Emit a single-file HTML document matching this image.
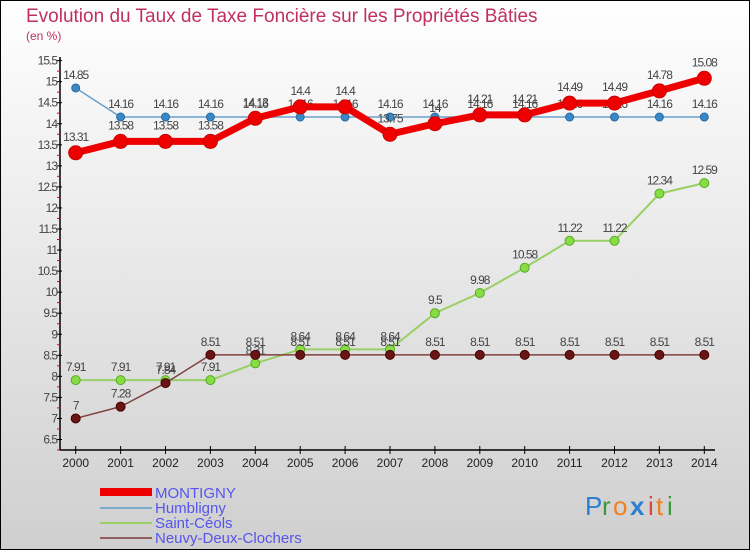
<!DOCTYPE html>
<html><head><meta charset="utf-8"><style>
body{margin:0}
#c{width:750px;height:550px;position:relative;overflow:hidden;font-family:"Liberation Sans",sans-serif}
svg text{font-family:"Liberation Sans",sans-serif}
</style></head><body>
<div id="c">
<svg id="s" width="750" height="550" xmlns="http://www.w3.org/2000/svg">
<defs><linearGradient id="bg" x1="0" y1="0" x2="0" y2="1"><stop offset="0" stop-color="#ffffff"/><stop offset="1" stop-color="#cfcfcf"/></linearGradient></defs>
<rect x="0.5" y="0.5" width="749" height="549" fill="url(#bg)" stroke="#000"/>
<text x="26" y="22" font-size="19" fill="#c0305f">Evolution du Taux de Taxe Foncière sur les Propriétés Bâties</text>
<text x="26" y="40" font-size="12" fill="#c0305f">(en %)</text>
<g id="axes"></g><g id="series"></g>
<g>
<rect x="100" y="488" width="52" height="8" fill="#ee0000"/>
<text x="155" y="498" font-size="15" fill="#5555ee">MONTIGNY</text>
<rect x="100" y="507" width="52" height="2" fill="#7aaccc"/>
<text x="155" y="513" font-size="15" fill="#5555ee">Humbligny</text>
<rect x="100" y="522" width="52" height="2" fill="#99d066"/>
<text x="155" y="528" font-size="15" fill="#5555ee">Saint-Céols</text>
<rect x="100" y="537" width="52" height="2" fill="#906060"/>
<text x="155" y="543" font-size="15" fill="#5555ee">Neuvy-Deux-Clochers</text>
</g>
<g font-size="26">
<text x="585" y="515" fill="#2a7fd0">P</text><text x="602" y="515" fill="#3a9a3a">r</text><text x="613" y="515" fill="#f08020">o</text><text x="630" y="515" fill="#2a7fd0" font-weight="bold">x</text><text x="648" y="515" fill="#e04040">i</text><text x="656" y="515" fill="#f08020">t</text><text x="667" y="515" fill="#3a9a3a">i</text>
</g>
</svg>
</div>
<script>
const years=[2000,2001,2002,2003,2004,2005,2006,2007,2008,2009,2010,2011,2012,2013,2014];
const montigny=[13.31,13.58,13.58,13.58,14.13,14.4,14.4,13.75,14,14.21,14.21,14.49,14.49,14.78,15.08];
const humbligny=[14.85,14.16,14.16,14.16,14.16,14.16,14.16,14.16,14.16,14.16,14.16,14.16,14.16,14.16,14.16];
const saintCeols=[7.91,7.91,7.91,7.91,8.31,8.64,8.64,8.64,9.5,9.98,10.58,11.22,11.22,12.34,12.59];
const neuvy=[7,7.28,7.84,8.51,8.51,8.51,8.51,8.51,8.51,8.51,8.51,8.51,8.51,8.51,8.51];
const yTicks=[6.5,7,7.5,8,8.5,9,9.5,10,10.5,11,11.5,12,12.5,13,13.5,14,14.5,15,15.5];
const NS="http://www.w3.org/2000/svg";
function X(i){return 75.7+i*44.9;}
function Y(v){return 439.5-(v-6.5)*42.1;}
function mk(t,a,p){const e=document.createElementNS(NS,t);for(const k in a)e.setAttribute(k,a[k]);p.appendChild(e);return e;}
const ax=document.getElementById('axes');
let l=mk('line',{x1:60,y1:57,x2:60,y2:450,stroke:'#000','stroke-width':1.5},ax);


l=mk('line',{x1:60,y1:450,x2:715,y2:450,stroke:'#000','stroke-width':1.5},ax);


yTicks.forEach(v=>{
 mk('line',{x1:57,y1:Y(v),x2:62,y2:Y(v),stroke:'#000'},ax);
 mk('line',{x1:57,y1:Y(v)+10.5,x2:60,y2:Y(v)+10.5,stroke:'#e00'},ax);
 const t=mk('text',{x:57,y:Y(v)+4,'font-size':12,fill:'#444','text-anchor':'end','letter-spacing':'-1'},ax);
 t.textContent=v;
 
 
});
years.forEach((yr,i)=>{
 mk('line',{x1:X(i),y1:446,x2:X(i),y2:454,stroke:'#000'},ax);
 const t=mk('text',{x:X(i),y:467,'font-size':12,fill:'#222','text-anchor':'middle'},ax);
 t.textContent=yr;
 
 
});
const sg=document.getElementById('series');
function series(data,name,color,w,r,dot,dotStroke){
 const g=mk('g',{},sg);
 
 
 const pl=mk('polyline',{points:data.map((v,i)=>X(i)+','+Y(v)).join(' '),fill:'none',stroke:color,'stroke-width':w,'stroke-linejoin':'round'},g);
 
 
 data.forEach((v,i)=>{
  const c=mk('circle',{cx:X(i),cy:Y(v),r:r,fill:dot,stroke:dotStroke,'stroke-width':1},g);
  
  
  const t=mk('text',{x:X(i),y:Y(v)-9-(r>5?3:0),'font-size':12,fill:'#444','text-anchor':'middle','letter-spacing':'-1'},g);
  t.textContent=v;
  
  
 });
}
series(humbligny,'humbligny','#6aa0cc',1.5,4,'#3a88c8','#2a6aa0');
series(saintCeols,'saint-ceols','#99d066',2,4.5,'#88dd44','#55aa22');
series(neuvy,'neuvy-deux-clochers','#804040',1.5,4.5,'#6a1515','#400');
series(montigny,'montigny','#ee0000',7,7,'#ee0000','#c00');
</script>
</body></html>
